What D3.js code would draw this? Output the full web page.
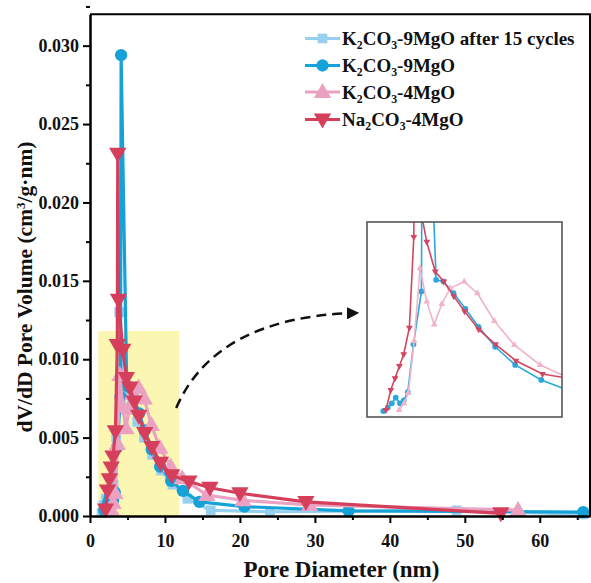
<!DOCTYPE html>
<html><head><meta charset="utf-8">
<script src="https://cdn.jsdelivr.net/npm/d3@7"></script>
<style>
body{margin:0;background:#fff}
svg{display:block}
text{font-family:"Liberation Serif","Times New Roman",serif;font-weight:bold;fill:#111}
</style>
</head><body>
<svg id="c" width="591" height="583"></svg>
<script>
// ---------------- data ----------------
const seriesNames = ["K2CO3-9MgO after 15 cycles", "K2CO3-9MgO", "K2CO3-4MgO", "Na2CO3-4MgO"];

const diamCycled = [1.55,1.8,2.1,2.45,2.8,3.15,3.5,3.9,4.4,4.9,5.5,6.3,7.2,8.3,9.5,11.0,13.0,16.1,24.0,48.9,65.8];
const volCycled  = [0.0002,0.0007,0.0011,0.0009,0.0012,0.0020,0.0050,0.0130,0.0079,0.0078,0.0070,0.0060,0.0050,0.0039,0.0029,0.0020,0.0011,0.00036,0.00027,0.00036,0.0001];

const diamK9 = [1.92,2.17,2.40,2.62,2.86,3.07,3.30,3.62,4.07,4.15,4.90,5.31,5.88,6.55,7.29,8.23,9.36,10.83,12.4,14.6,20.6,34.5,65.8];
const volK9  = [0.00036,0.00056,0.00083,0.00117,0.00083,0.00101,0.0015,0.0044,0.0076,0.0294,0.0083,0.0082,0.0075,0.00655,0.00546,0.00425,0.00315,0.00224,0.0016,0.0009,0.0006,0.00033,0.00025];

const diamK4 = [2.81,3.09,3.33,3.66,3.99,4.37,4.79,5.22,5.69,6.48,7.23,8.18,9.31,10.77,12.3,15.6,20.4,29.3,57.1];
const volK4  = [0.00042,0.00083,0.00147,0.0046,0.0090,0.00698,0.0056,0.00684,0.00779,0.00819,0.00749,0.00581,0.00436,0.00315,0.0024,0.00134,0.0010,0.0007,0.00038];

const diamNa4 = [2.07,2.34,2.58,2.83,3.07,3.39,3.64,3.70,3.80,4.37,4.85,5.33,5.90,6.50,7.30,8.25,9.40,10.9,13.2,16.0,20.0,28.8,54.8];
const volNa4  = [0.00042,0.00163,0.00234,0.00309,0.0038,0.0054,0.0109,0.0231,0.0138,0.0106,0.0088,0.0082,0.0073,0.0064,0.0053,0.0044,0.0034,0.0026,0.0022,0.0018,0.00145,0.0009,0.00017];

const xTicks = [0,10,20,30,40,50,60];
const yTicks = [0.000,0.005,0.010,0.015,0.020,0.025,0.030];
const zoomX = [1, 12];
const zoomY = [0, 0.0118];

// ---------------- drawing ----------------
const svg = d3.select("#c");
const colors = ["#96d0ee", "#16a2d7", "#eba2c2", "#d63f5b"];
const insetColors = ["#96d0ee", "#2aa8dc", "#f0b3cb", "#d4455f"];
const shapes = [d3.symbolSquare, d3.symbolCircle, d3.symbolTriangle, d3.symbolTriangle];
const rot = [0, 0, 0, 180];
const series = [
  {name: seriesNames[0], xs: diamCycled, ys: volCycled},
  {name: seriesNames[1], xs: diamK9, ys: volK9},
  {name: seriesNames[2], xs: diamK4, ys: volK4},
  {name: seriesNames[3], xs: diamNa4, ys: volNa4}
];

const L = 90, R = 590, T = 14.3, B = 516;
const x = d3.scaleLinear().domain([0, 66.7]).range([L, R]);
const y = d3.scaleLinear().domain([0, 0.032]).range([B, T]);

// highlight box
svg.append("rect")
  .attr("x", x(zoomX[0]+0.1)).attr("y", y(zoomY[1]))
  .attr("width", x(zoomX[1]-0.1) - x(zoomX[0]+0.1)).attr("height", y(0) - y(zoomY[1]))
  .attr("fill", "#fbf6b1");

svg.append("clipPath").attr("id","cm").append("rect")
  .attr("x", L).attr("y", T).attr("width", R-L).attr("height", B-T+8);

const main = svg.append("g").attr("clip-path","url(#cm)");
const sizes = [95, 120, 130, 130];
series.forEach((s, i) => {
  const pts = s.xs.map((d, k) => [d, s.ys[k]]);
  main.append("path").datum(pts)
    .attr("fill","none").attr("stroke", colors[i]).attr("stroke-width", 3.2)
    .attr("stroke-linejoin","round")
    .attr("d", d3.line().x(d => x(d[0])).y(d => y(d[1])));
  main.selectAll(null).data(pts).enter().append("path")
    .attr("d", d3.symbol().type(shapes[i]).size(sizes[i]))
    .attr("transform", d => `translate(${x(d[0])},${y(d[1]) + (i===3?-1:(i===2?1:0))}) rotate(${rot[i]})`)
    .attr("fill", colors[i]);
});

// axes
const fs = 18;
const yAx = svg.append("g").attr("transform", `translate(${L},0)`)
  .call(d3.axisLeft(y).tickValues(yTicks).tickFormat(d3.format(".3f")).tickSize(7).tickSizeOuter(0).tickPadding(4));
const yMinor = svg.append("g").attr("transform", `translate(${L},0)`)
  .call(d3.axisLeft(y).tickValues(yTicks.map(v => v + 0.0025)).tickFormat("").tickSize(4).tickSizeOuter(0));
const xAx = svg.append("g").attr("transform", `translate(0,${B})`)
  .call(d3.axisBottom(x).tickValues(xTicks).tickFormat(d3.format("d")).tickSize(7).tickSizeOuter(0).tickPadding(11));
const xMinor = svg.append("g").attr("transform", `translate(0,${B})`)
  .call(d3.axisBottom(x).tickValues(xTicks.map(v => v + 5)).tickFormat("").tickSize(4).tickSizeOuter(0));
[yAx, yMinor, xAx, xMinor].forEach(g => {
  g.selectAll(".domain").attr("stroke","#000").attr("stroke-width",2);
  g.selectAll(".tick line").attr("stroke","#000").attr("stroke-width",2);
  g.selectAll("text").style("font-size", fs+"px").attr("fill","#111");
});
// frame top/right
svg.append("path").attr("d", `M${L},${T}H${R}V${B}`).attr("fill","none").attr("stroke","#000").attr("stroke-width",2);

// axis titles
svg.append("text").attr("x", 341.5).attr("y", 577).attr("text-anchor","middle")
  .style("font-size","23px").text("Pore Diameter (nm)");
const yt = svg.append("text").attr("transform", `translate(32,287) rotate(-90)`).attr("text-anchor","middle")
  .style("font-size","21.5px");
yt.append("tspan").text("dV/dD Pore Volume (cm");
yt.append("tspan").attr("dy",-7).style("font-size","13px").text("3");
yt.append("tspan").attr("dy",7).text("/g·nm)");

// legend
function richName(t, name, base) {
  // digits directly after an element symbol in the formula part are subscripts
  const formula = name.split(" ")[0];
  const rest = name.slice(formula.length);
  const segs = [];
  const re = /([A-Z][a-z]?)(\d+)/g;
  let last = 0, m;
  while ((m = re.exec(formula)) !== null) {
    segs.push({txt: formula.slice(last, m.index) + m[1], sub: false});
    segs.push({txt: m[2], sub: true});
    last = m.index + m[0].length;
  }
  segs.push({txt: formula.slice(last) + rest, sub: false});
  let lower = false;
  segs.forEach(sg => {
    if (!sg.txt) return;
    const ts = t.append("tspan").text(sg.txt)
      .style("font-size", (sg.sub ? base*0.62 : base) + "px");
    if (sg.sub && !lower) { ts.attr("dy", 4); lower = true; }
    else if (!sg.sub && lower) { ts.attr("dy", -4); lower = false; }
  });
}
const legY = [38.5, 65.5, 92, 119.5];
series.forEach((s, i) => {
  const g = svg.append("g");
  g.append("line").attr("x1",305).attr("x2",340).attr("y1",legY[i]).attr("y2",legY[i])
    .attr("stroke",colors[i]).attr("stroke-width",3.2);
  g.append("path").attr("d", d3.symbol().type(shapes[i]).size(sizes[i]))
    .attr("transform", `translate(322.5,${legY[i] + (i===3?-1:(i===2?1:0))}) rotate(${rot[i]})`).attr("fill", colors[i]);
  const t = g.append("text").attr("x", 342).attr("y", legY[i] + 6.5);
  richName(t, s.name, 19);
});

// inset
const IL = 367, IR = 562, IT = 222, IB = 417;
const ix = d3.scaleLinear().domain(zoomX).range([IL, IR]);
const iy = d3.scaleLinear().domain(zoomY).range([IB, IT]);
svg.append("rect").attr("x",IL).attr("y",IT).attr("width",IR-IL).attr("height",IB-IT)
  .attr("fill","#fff");
svg.append("clipPath").attr("id","ci").append("rect").attr("x",IL).attr("y",IT).attr("width",IR-IL).attr("height",IB-IT);
const ins = svg.append("g").attr("clip-path","url(#ci)");
series.slice(1).forEach((s, j) => {
  const i = j + 1;
  const pts = s.xs.map((d, k) => [d, s.ys[k]]);
  ins.append("path").datum(pts).attr("fill","none").attr("stroke", insetColors[i]).attr("stroke-width",1.6)
    .attr("d", d3.line().x(d => ix(d[0])).y(d => iy(d[1])));
  ins.selectAll(null).data(pts).enter().append("path")
    .attr("d", d3.symbol().type(shapes[i]).size(i===1?26:20))
    .attr("transform", d => `translate(${ix(d[0])},${iy(d[1])}) rotate(${rot[i]})`)
    .attr("fill", insetColors[i]);
});
svg.append("rect").attr("x",IL).attr("y",IT).attr("width",IR-IL).attr("height",IB-IT)
  .attr("fill","none").attr("stroke","#555").attr("stroke-width",1.6);

// dashed arrow
svg.append("defs").append("marker").attr("id","ah").attr("viewBox","0 0 10 10")
  .attr("refX",5).attr("refY",5).attr("markerWidth",5).attr("markerHeight",5).attr("orient","auto")
  .append("path").attr("d","M0,0L10,5L0,10Z").attr("fill","#111");
svg.append("path").attr("d", `M${x(11.9)-3},408 Q215,318 353,313`)
  .attr("fill","none").attr("stroke","#111").attr("stroke-width",2.5)
  .attr("stroke-dasharray","10,6").attr("marker-end","url(#ah)");
</script>
</body></html>
